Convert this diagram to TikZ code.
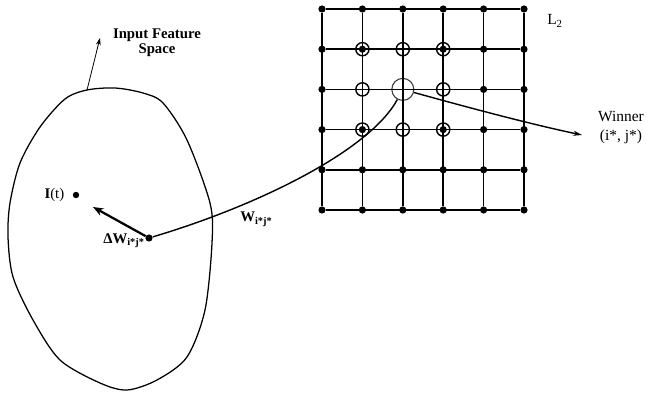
\documentclass[tikz,border=0pt]{standalone}
\usepackage{fontspec}
\setmainfont{Liberation Serif}
\usetikzlibrary{arrows.meta,calc,positioning}
\tikzset{
  gdot/.style={circle, fill=black, minimum size=1.8mm, inner sep=0pt},
  ring/.style={circle, draw=black, line width=1pt, minimum size=3.3mm, inner sep=0pt},
  winring/.style={circle, draw=black!75, line width=0.8pt, minimum size=5.5mm, inner sep=0pt},
  gline/.style={line width=1.1pt},
  lbl/.style={font=\fontsize{10.5}{11}\selectfont\bfseries, inner sep=0pt},
}
\begin{document}
\begin{tikzpicture}[x=0.025cm, y=-0.025cm,
  link/.style={line width=1pt},
  txt/.style={font=\fontsize{11}{13.5}\selectfont, inner sep=0pt},
]
\useasboundingbox (0,0) rectangle (651,393);
% ---------- input feature space
\draw[line width=0.9pt] plot[smooth cycle] coordinates {
  (87,90) (115,88) (143,93) (163,103) (187,140) (210,203) (212,243)
  (205,310) (187,357) (157,380) (127,390) (100,383) (60,360) (33,320)
  (13,277) (8,237) (10,203) (20,163) (40,127) (65,99)};
\coordinate (btop) at (87,90);
\coordinate (itip) at (100,38);
\node[lbl, align=center] (ifs) at (157,43) {Input Feature\\Space};
\draw[-{Stealth[length=1.8mm,width=1.2mm]}, line width=0.6pt] (btop) -- (itip);
% ---------- input and weight vector
\node[gdot, minimum size=1.6mm] (it) at (76,195) {};
\node[lbl, left=2mm of it] (itlbl) {I\textmd{(t)}};
\node[gdot] (w) at (149,238) {};
\coordinate (dtip) at (93,207);
\draw[-{Stealth[length=2.6mm,width=2mm]}, line width=1.6pt] (w) -- (dtip);
\node[lbl, anchor=base east] (dwlbl) at (145,243) {ΔW\textsubscript{i*j*}};
% ---------- output map
\foreach \i in {0,...,5}{
  \foreach \j in {0,...,5}{
    \pgfmathtruncatemacro{\dist}{abs(\i-2)+abs(\j-2)}
    \ifnum\dist=0
      \node[winring] (g\i\j) at ({322+40.4*\i},{9+40.2*\j}) {};
    \else\ifnum\dist=1
      \node[ring] (g\i\j) at ({322+40.4*\i},{9+40.2*\j}) {};
    \else
      \node[gdot] (g\i\j) at ({322+40.4*\i},{9+40.2*\j}) {};
    \fi\fi
  }
}
\foreach \p in {11,31,13,33}
  \node[ring] (r\p) at (g\p) {};
\foreach \k in {0,...,5}{
  \draw[gline] (g0\k) -- (g5\k);
  \draw[gline] (g\k0) -- (g\k5);
}
\node[txt, anchor=base west] (l2) at (547,25) {L\textsubscript{2}};
% ---------- winner links
\coordinate (wtip) at (582,135);
\draw[link] (w) .. controls (260,205) and (370,150) .. (g22);
\draw[link, -{Stealth[length=2.2mm,width=1.3mm]}] (g22) .. controls (470,108) and (530,124) .. (wtip);
\node[lbl, anchor=base west] (wlbl) at (240,222) {W\textsubscript{i*j*}};
\node[txt, align=center] (winlbl) at (621,128) {Winner\\(i*, j*)};
\end{tikzpicture}
\end{document}
